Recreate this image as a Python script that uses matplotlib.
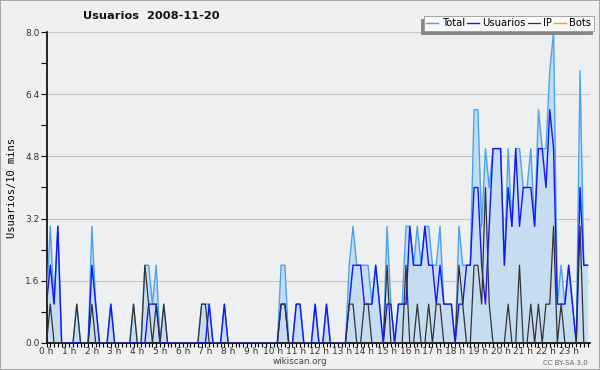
import numpy as np
import matplotlib.pyplot as plt
from matplotlib.patches import Rectangle

# 10-minute slots, 0h00 .. 23h50
usuarios = [
    1, 2, 1, 3, 0, 0, 0, 0, 0, 0, 0, 0,
    2, 1, 0, 0, 0, 1, 0, 0, 0, 0, 0, 0,
    0, 0, 0, 1, 1, 1, 0, 0, 0, 0, 0, 0,
    0, 0, 0, 0, 0, 0, 0, 1, 0, 0, 0, 1,
    0, 0, 0, 0, 0, 0, 0, 0, 0, 0, 0, 0,
    0, 0, 1, 1, 0, 0, 1, 1, 0, 0, 0, 1,
    0, 0, 1, 0, 0, 0, 0, 0, 1, 2, 2, 2,
    1, 1, 1, 2, 1, 0, 1, 1, 0, 1, 1, 1,
    3, 2, 2, 2, 3, 2, 2, 1, 2, 1, 1, 1,
    0, 1, 1, 2, 2, 4, 4, 2, 1, 3, 5, 5,
    5, 2, 4, 3, 5, 3, 4, 4, 4, 3, 5, 5,
    4, 6, 5, 1, 1, 1, 2, 1, 0, 4, 2, 2,
]
ip = [
    0, 1, 0, 0, 0, 0, 0, 0, 1, 0, 0, 0,
    1, 0, 0, 0, 0, 0, 0, 0, 0, 0, 0, 1,
    0, 0, 2, 1, 0, 1, 0, 1, 0, 0, 0, 0,
    0, 0, 0, 0, 0, 1, 1, 0, 0, 0, 0, 0,
    0, 0, 0, 0, 0, 0, 0, 0, 0, 0, 0, 0,
    0, 0, 1, 1, 0, 0, 0, 0, 0, 0, 0, 0,
    0, 0, 0, 0, 0, 0, 0, 0, 1, 1, 0, 0,
    1, 1, 0, 0, 0, 0, 2, 0, 0, 0, 0, 2,
    0, 0, 1, 0, 0, 1, 0, 1, 1, 0, 0, 0,
    0, 2, 1, 0, 0, 2, 2, 1, 4, 1, 0, 0,
    0, 0, 1, 0, 0, 2, 0, 0, 1, 0, 1, 0,
    1, 1, 3, 0, 1, 0, 0, 0, 0, 3, 0, 0,
]
bots = [0] * 144
total = [u + p + b for u, p, b in zip(usuarios, ip, bots)]

hours = [f"{h} h" for h in range(24)]
y_ticks = [0.0, 1.6, 3.2, 4.8, 6.4, 8.0]

bg = "#eeeff1"
fig = plt.figure(figsize=(6, 3.7), dpi=100, facecolor="#f0f0f0")
ax = fig.add_axes([46.5 / 600, 27 / 370, 543 / 600, 311 / 370])
ax.set_facecolor(bg)

x = np.arange(len(total))
ax.fill_between(x, total, color="#c6dcf0", lw=0, zorder=1)
ax.plot(x, total, color="#4aa3f0", lw=1.0, zorder=3, label="Total")
ax.plot(x, usuarios, color="#1414ff", lw=1.0, zorder=4, label="Usuarios")
ax.plot(x, ip, color="#333333", lw=0.9, zorder=5, label="IP")
ax.plot(x, bots, color="#ff9c1a", lw=1.0, zorder=2, label="Bots")

ax.set_xlim(0, 143.5)
ax.set_ylim(0, 8.0)
ax.set_yticks(y_ticks)
ax.set_yticklabels([f"{v:.1f}" for v in y_ticks], fontsize=6.5, color="#333333")
ax.set_yticks(np.arange(0.8, 8.0, 1.6), minor=True)
ax.set_xticks(np.arange(0, 144, 6))
ax.set_xticklabels(hours, fontsize=6.5, color="#333333")
ax.set_xticks(np.arange(0, 144), minor=True)
ax.tick_params(axis="x", which="both", length=3, width=0.8, pad=0)
ax.tick_params(axis="y", which="both", length=4, width=0.8, pad=1)
ax.grid(axis="y", color="#c8c8c8", lw=0.8, zorder=0)
ax.set_axisbelow(True)
for s in ["top", "right"]:
    ax.spines[s].set_visible(False)
for s in ["left", "bottom"]:
    ax.spines[s].set_linewidth(1.2)

ax.set_ylabel("Usuarios/10 mins", family="DejaVu Sans Mono", fontsize=7.5, labelpad=6)

leg = fig.legend(loc="upper right", bbox_to_anchor=(594 / 600, 1 - 16 / 370), ncol=4,
                 fontsize=7.2, frameon=True, fancybox=False, handlelength=1.2,
                 handletextpad=0.35, columnspacing=0.2, borderpad=0.25,
                 borderaxespad=0,
                 shadow={"ox": -1.8, "oy": -1.8, "color": "#858585", "alpha": 1})
leg.get_frame().set_facecolor("#f8f8f8")
leg.get_frame().set_edgecolor("#999999")
leg.get_frame().set_linewidth(0.6)

fig.text(151 / 600, 1 - 16 / 370, "Usuarios  2008-11-20", ha="center", va="center",
         fontsize=8.2, fontweight="bold", color="#111111")
fig.text(300 / 600, 1 - 362 / 370, "wikiscan.org", ha="center", va="center",
         fontsize=6.3, color="#444444")
fig.text(588 / 600, 1 - 363 / 370, "CC BY-SA 3.0", ha="right", va="center",
         fontsize=5, color="#666666")
fig.patches.append(Rectangle((0, 0), 1, 1, transform=fig.transFigure, fill=False,
                             edgecolor="#aaaaaa", lw=1.5))

fig.savefig("out.png", dpi=100, facecolor=fig.get_facecolor())
